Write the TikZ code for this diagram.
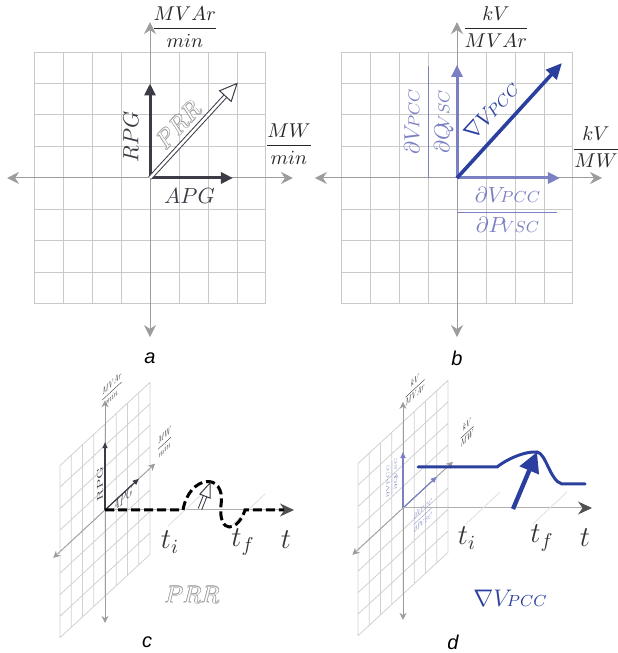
\documentclass[tikz,border=0pt]{standalone}
\usepackage{amsmath}
\usepackage{fontspec}
\newfontfamily\panelfont{Liberation Sans}
\usetikzlibrary{arrows.meta}

\definecolor{gridgray}{HTML}{C9C9C9}
\definecolor{axisgray}{HTML}{9C9C9C}
\definecolor{tipgray}{HTML}{505050}
\definecolor{vecgray}{HTML}{3B3C46}
\definecolor{sensblue}{HTML}{7B80C3}
\definecolor{gradblue}{HTML}{2B3F9F}

% subscript kept on the baseline, tucked under the letter
\newcommand{\lsub}[1]{\mkern-4mu{\scriptstyle #1}}

\begin{document}
\begin{tikzpicture}[x=0.5pt, y=0.5pt,
    gridline/.style={gridgray, line width=0.5pt, step=1},
    faintgrid/.style={gridgray!85, line width=0.4pt, step=1},
    axisline/.style={axisgray, line width=0.5pt, {Stealth[length=6pt,width=6pt]}-{Stealth[length=6pt,width=6pt]}},
    smallaxis/.style={axisgray, line width=0.4pt, {Stealth[length=3.5pt,width=3.5pt]}-{Stealth[length=3.5pt,width=3.5pt]}},
    timeaxis/.style={axisgray!80, line width=0.5pt, -{Stealth[length=7pt,width=6.5pt,color=tipgray]}},
    vec/.style={vecgray, line width=1.5pt, -{Triangle[length=6pt,width=5.5pt]}},
    smallvec/.style={vecgray, line width=0.6pt, -{Triangle[length=3pt,width=2.6pt]}},
    sensvec/.style={sensblue, line width=1.5pt, -{Triangle[length=6pt,width=5.5pt]}},
    smallsens/.style={sensblue, line width=0.6pt, -{Triangle[length=3pt,width=2.6pt]}},
    gradvec/.style={gradblue, line width=1.8pt, -{Triangle[length=8pt,width=7pt]}},
    gradcurve/.style={gradblue, line width=1.5pt, line join=round, line cap=round},
    gradarrow/.style={gradblue, line width=2.2pt, -{Triangle[length=10pt,width=10pt]}},
    prrpath/.style={black, line width=1.5pt, dash pattern=on 4.5pt off 2pt},
    hollowshaft/.style={draw=vecgray, double=white, line width=0.5pt, double distance=1.3pt},
    hollowhead/.style={draw=vecgray, fill=white, line width=0.5pt, line join=miter},
    trace/.style={gray!25, line width=0.4pt},
    unitlbl/.style={font=\fontsize{10}{12}\selectfont, text=black!85},
    smallunit/.style={font=\fontsize{7}{8}\selectfont, text=black!85, transform shape},
    veclbl/.style={font=\fontsize{10.5}{12}\selectfont, text=vecgray},
    senslbl/.style={font=\fontsize{11}{13}\selectfont, text=sensblue},
    smallsenslbl/.style={font=\fontsize{6}{7}\selectfont, text=sensblue, transform shape},
    timelbl/.style={font=\fontsize{14}{16}\selectfont, text=black!80},
    ghost/.style={font=\fontsize{13}{15}\selectfont, text=gray!75},
    panellbl/.style={font=\panelfont\itshape\fontsize{10}{12}\selectfont},
  ]
  \useasboundingbox (0,0) rectangle (617,653);

  % a: ramp rates in the P-Q plane
  \begin{scope}[shift={(150,475)}, x=14.5pt, y=15.75pt]
    \draw[gridline] (-4,-4) grid (4,4);
    \draw[axisline] (-4.93,0) -- (4.93,0);
    \draw[axisline] (0,-5.05) -- (0,4.95);
    \coordinate (oa) at (0,0);
    \coordinate (rpga) at (0,3);
    \coordinate (apga) at (2.86,0);
    \coordinate (prra) at (3,3);
    \draw[vec] (oa) -- (rpga);
    \draw[vec] (oa) -- (apga);
    % PRR as a hollow arrow
    \draw[hollowshaft] (oa) -- (2.66,2.66);
    \draw[hollowhead] (prra) -- (2.4,2.77) -- (2.8,2.43) -- cycle;
    \node[veclbl, rotate=90] (rpglbl) at (-0.66,1.3) {$RPG$};
    \node[veclbl] (apglbl) at (1.36,-0.57) {$APG$};
    \foreach \ang in {0,45,...,315}
      \node[ghost, rotate=47, shift={(\ang:0.35pt)}] (prrghost\ang) at (0.97,1.68) {$PRR$};
    \node[ghost, rotate=47, text=white] (prrlbl) at (0.97,1.68) {$PRR$};
    \node[unitlbl] (mvarmin) at (1.2,4.8) {$\dfrac{MVAr}{min}$};
    \node[unitlbl] (mwmin) at (4.79,1.08) {$\dfrac{MW}{min}$};
  \end{scope}
  \node[panellbl] (la) at (150,295) {a};

  % b: voltage sensitivities
  \begin{scope}[shift={(457,475)}, x=14.5pt, y=15.75pt]
    \draw[gridline] (-4,-4) grid (4,4);
    \draw[axisline] (-4.9,0) -- (5,0);
    \draw[axisline] (0,-5.05) -- (0,4.95);
    \coordinate (ob) at (0,0);
    \coordinate (dqb) at (0,3.59);
    \coordinate (dpb) at (3.55,0);
    \coordinate (gradb) at (3.62,3.65);
    \draw[sensvec] (ob) -- (dqb);
    \draw[sensvec] (ob) -- (dpb);
    \draw[gradvec] (ob) -- (gradb);
    \node[senslbl, rotate=90] (dvdq) at (-0.97,1.79) {$\dfrac{\makebox[56pt]{$\partial V\lsub{PCC}$}}{\partial Q\lsub{VSC}}$};
    \node[senslbl] (dvdp) at (1.74,-1.02) {$\dfrac{\makebox[50pt]{$\partial V\lsub{PCC}$}}{\partial P\lsub{VSC}}$};
    \node[senslbl, text=gradblue, rotate=47.6] (gradlbl) at (1.18,2.14) {$\nabla V\lsub{PCC}$};
    \node[unitlbl] (kvmvar) at (1.34,4.8) {$\dfrac{kV}{MVAr}$};
    \node[unitlbl] (kvmw) at (4.79,0.98) {$\dfrac{kV}{MW}$};
  \end{scope}
  \node[panellbl] (lb) at (457,295) {b};

  % c: plane of panel a seen along time
  \begin{scope}[shift={(105,143)}, cm={0.388,0.359,0,0.683,(0,0)}, x=14.5pt, y=15.75pt]
    \draw[faintgrid] (-4,-4) grid (4,4);
    \draw[smallaxis] (-4.6,0) -- (4.45,0);
    \draw[smallaxis] (0,-5.25) -- (0,5.1);
    \coordinate (oc) at (0,0);
    \coordinate (rpgc) at (0,3.15);
    \coordinate (apgc) at (3,0);
    \draw[smallvec] (oc) -- (rpgc);
    \draw[smallvec] (oc) -- (apgc);
    \node[veclbl, transform shape, rotate=90] (rpgclbl) at (-0.45,1.4) {$RPG$};
    \node[veclbl, transform shape] (apgclbl) at (1.6,-0.25) {$APG$};
    \node[smallunit] (mvarminc) at (0.62,5.27) {$\dfrac{MVAr}{min}$};
    \node[smallunit] (mwminc) at (5.3,0.58) {$\dfrac{MW}{min}$};
  \end{scope}
  \coordinate (tc) at (294,143);
  \draw[timeaxis] (oc) -- (tc);
  % traces at t_i and t_f
  \draw[trace] (168,127) -- (202,159);
  \draw[trace] (231,127) -- (265,159);
  % PRR response
  \coordinate (ric) at (183,143);
  \coordinate (rfc) at (245,143);
  \coordinate (endc) at (284,143);
  \draw[prrpath] (oc) -- (ric) .. controls (189,178) and (226,182) .. (221,148)
    .. controls (218,118) and (238,121) .. (rfc) -- (endc);
  \coordinate (prrtail) at (200,144);
  \coordinate (prrtip) at (210,170);
  \draw[hollowshaft] (prrtail) -- (205.6,158.2);
  \draw[hollowhead] (prrtip) -- (199.9,158.9) -- (210.1,154.9) -- cycle;
  \node[timelbl] (tic) at (170,111) {$t_i$};
  \node[timelbl] (tfc) at (243,111) {$t_f$};
  \node[timelbl] (tlc) at (286,113) {$t$};
  \foreach \ang in {0,45,...,315}
    \node[ghost, font=\fontsize{12.5}{14}\selectfont, shift={(\ang:0.35pt)}] (prrcghost\ang) at (192,58) {$PRR$};
  \node[ghost, font=\fontsize{12.5}{14}\selectfont, text=white] (prrclbl) at (192,58) {$PRR$};
  \node[panellbl] (lc) at (147,11) {c};

  % d: plane of panel b seen along time
  \begin{scope}[shift={(403,145)}, cm={0.388,0.359,0,0.683,(0,0)}, x=14.5pt, y=15.75pt]
    \draw[faintgrid] (-4,-4) grid (4,4);
    \draw[smallaxis] (-4.5,0) -- (4.44,0);
    \draw[smallaxis] (0,-5.2) -- (0,4.93);
    \coordinate (od) at (0,0);
    \coordinate (dqd) at (0,2.6);
    \coordinate (dpd) at (3,0);
    \draw[smallsens] (od) -- (dqd);
    \draw[smallsens] (od) -- (dpd);
    \node[smallsenslbl, rotate=90] (dvdqd) at (-0.97,1.9) {$\dfrac{\partial V\lsub{PCC}}{\partial Q\lsub{VSC}}$};
    \node[smallsenslbl] (dvdpd) at (1.78,-1.2) {$\dfrac{\partial V\lsub{PCC}}{\partial P\lsub{VSC}}$};
    \node[smallunit] (kvmvard) at (1.07,5.08) {$\dfrac{kV}{MVAr}$};
    \node[smallunit] (kvmwd) at (5.7,0.8) {$\dfrac{kV}{MW}$};
  \end{scope}
  \coordinate (td) at (592,145);
  \draw[timeaxis] (od) -- (td);
  % traces at t_i and t_f
  \draw[trace] (466,129) -- (500,161);
  \draw[trace] (533,129) -- (567,161);
  % voltage response and its gradient
  \draw[gradcurve] (418,186) -- (497,186) .. controls (507,194) and (525,202) .. (537,201)
    .. controls (546,200) and (550,172) .. (562,169) -- (585,169);
  \coordinate (gradtail) at (513,144);
  \coordinate (gradtip) at (537,201);
  \draw[gradarrow] (gradtail) -- (gradtip);
  \node[timelbl] (tid) at (467,115) {$t_i$};
  \node[timelbl] (tfd) at (542,115) {$t_f$};
  \node[timelbl] (tld) at (585,115) {$t$};
  \node[senslbl, font=\fontsize{12}{14}\selectfont, text=gradblue] (gradd) at (510,55) {$\nabla V\lsub{PCC}$};
  \node[panellbl] (ld) at (453,11) {d};
\end{tikzpicture}
\end{document}
